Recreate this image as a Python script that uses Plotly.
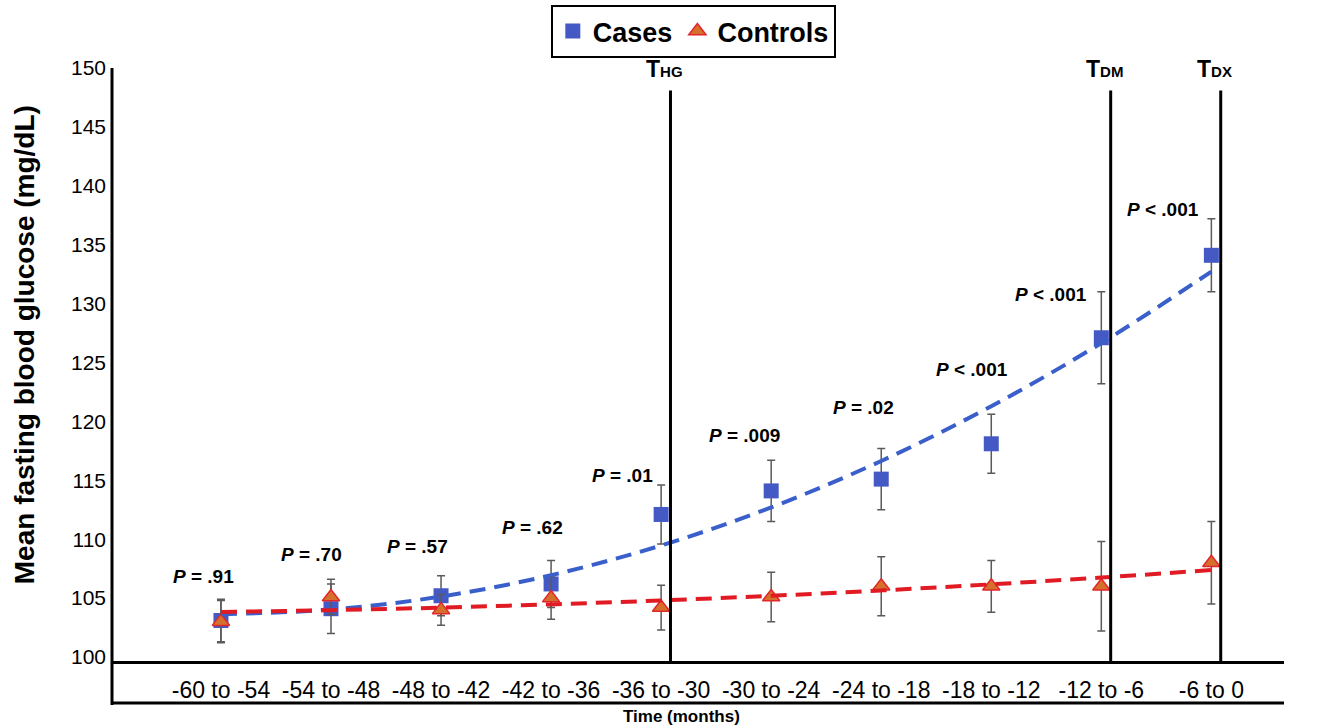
import numpy as np
import plotly.graph_objects as go

# ---------------- data ----------------
categories = ["-60 to -54", "-54 to -48", "-48 to -42", "-42 to -36", "-36 to -30",
              "-30 to -24", "-24 to -18", "-18 to -12", "-12 to -6", "-6 to 0"]
cases_mean = [103.1, 104.1, 105.2, 106.2, 112.1, 114.1, 115.1, 118.1, 127.1, 134.1]
cases_err = [1.8, 2.1, 1.7, 2.0, 2.5, 2.6, 2.6, 2.5, 3.9, 3.1]
controls_mean = [103.0, 105.1, 104.0, 105.0, 104.2, 105.1, 106.0, 106.0, 106.0, 108.0]
controls_err = [1.8, 1.5, 1.3, 1.8, 1.9, 2.1, 2.5, 2.2, 3.8, 3.5]
p_labels = ["P = .91", "P = .70", "P = .57", "P = .62", "P = .01",
            "P = .009", "P = .02", "P < .001", "P < .001", "P < .001"]
# label anchor positions (category offset, y value)
p_label_dx = [-0.155, -0.173, -0.218, -0.173, -0.355, -0.245, -0.164, -0.173, -0.455, -0.436]
p_label_y = [106.8, 108.7, 109.4, 111.0, 115.4, 118.8, 121.2, 124.4, 130.8, 138.0]
milestones = [("T", "HG"), ("T", "DM"), ("T", "DX")]
milestone_cat = [4, 8, 9]

FONT = "Liberation Sans, Arial, Helvetica, sans-serif"
x = np.arange(len(categories))

# quadratic (order-2 polynomial) trendlines fitted to the means
cases_fit = np.polyval(np.polyfit(x, cases_mean, 2), x)
controls_fit = np.polyval(np.polyfit(x, controls_mean, 2), x)

fig = go.Figure()

fig.add_trace(go.Scatter(
    x=x, y=cases_mean, mode="markers", name="Cases",
    marker=dict(symbol="square", size=15, color="#4559C4"),
    error_y=dict(type="data", array=cases_err, color="#5a5a5a", thickness=1.5, width=4),
))
fig.add_trace(go.Scatter(
    x=x, y=controls_mean, mode="markers", name="Controls",
    marker=dict(symbol="triangle-up", size=15, color="#D4702C",
                line=dict(color="#E3262B", width=1.5)),
    error_y=dict(type="data", array=controls_err, color="#5a5a5a", thickness=1.5, width=4),
))
fig.add_trace(go.Scatter(
    x=x, y=cases_fit, mode="lines", showlegend=False, hoverinfo="skip",
    line=dict(color="#3A5FCB", width=4, dash="16px,9px", shape="spline"),
))
fig.add_trace(go.Scatter(
    x=x, y=controls_fit, mode="lines", showlegend=False, hoverinfo="skip",
    line=dict(color="#E01B24", width=4, dash="16px,9px", shape="spline"),
))

shapes = []
# milestone vertical lines
for c in milestone_cat:
    shapes.append(dict(type="line", xref="x", yref="y", x0=c + 0.085, x1=c + 0.085,
                       y0=99.66, y1=148.1, line=dict(color="black", width=3)))
# y axis line extended into the label band
shapes.append(dict(type="line", xref="paper", yref="paper", x0=0, x1=0, y0=-0.074, y1=1,
                   line=dict(color="black", width=3)))
# bottom line of the label band
shapes.append(dict(type="line", xref="paper", yref="paper", x0=0, x1=1, y0=-0.0708, y1=-0.0708,
                   line=dict(color="black", width=3)))

annotations = []
for i, (t, dx, yy) in enumerate(zip(p_labels, p_label_dx, p_label_y)):
    rest = t[1:]
    annotations.append(dict(
        x=i + dx, y=yy, xref="x", yref="y", showarrow=False,
        text="<b><i>P</i>" + rest + "</b>",
        font=dict(family=FONT, size=19, color="black"),
        xanchor="center", yanchor="middle"))
for (big, small), c in zip(milestones, milestone_cat):
    annotations.append(dict(
        x=c + 0.03, y=149.9, xref="x", yref="y", showarrow=False,
        text="<b>" + big + "<span style='font-size:15px'>" + small + "</span></b>",
        font=dict(family=FONT, size=23, color="black"),
        xanchor="center", yanchor="middle"))
annotations.append(dict(
    x=-0.074, y=0.533, xref="paper", yref="paper", showarrow=False, textangle=-90,
    text="<b>Mean fasting blood glucose (mg/dL)</b>",
    font=dict(family=FONT, size=28, color="black"), xanchor="center", yanchor="middle"))
annotations.append(dict(
    x=0.486, y=-0.094, xref="paper", yref="paper", showarrow=False,
    text="<b>Time (months)</b>",
    font=dict(family=FONT, size=17, color="black"), xanchor="center", yanchor="middle"))

fig.update_layout(
    width=1329, height=728,
    margin=dict(l=112, r=45, t=68, b=67, autoexpand=False),
    paper_bgcolor="white", plot_bgcolor="white",
    font=dict(family=FONT, color="black"),
    showlegend=True,
    legend=dict(orientation="h", x=0.496, y=1.1062, xanchor="center", yanchor="top",
                bgcolor="white", bordercolor="black", borderwidth=2,
                font=dict(family=FONT, size=27, color="black", weight="bold"),
                itemwidth=30, tracegroupgap=0),
    xaxis=dict(range=[-0.99, 9.66], tickmode="array", tickvals=list(x), ticktext=categories,
               showgrid=False, zeroline=False, showline=True, linecolor="black", linewidth=3,
               ticks="", tickfont=dict(family=FONT, size=23, color="black"),
               ticklabelstandoff=6, automargin=False),
    yaxis=dict(range=[99.66, 150], tickmode="array", tickvals=list(range(100, 151, 5)),
               showgrid=False, zeroline=False, showline=False, ticks="",
               tickfont=dict(family=FONT, size=21, color="black"), ticklabelstandoff=5,
               automargin=False),
    shapes=shapes,
    annotations=annotations,
)

fig.write_html("out.html", config={"displayModeBar": False},
               post_script="document.body.style.margin='0';document.body.style.padding='0';")
